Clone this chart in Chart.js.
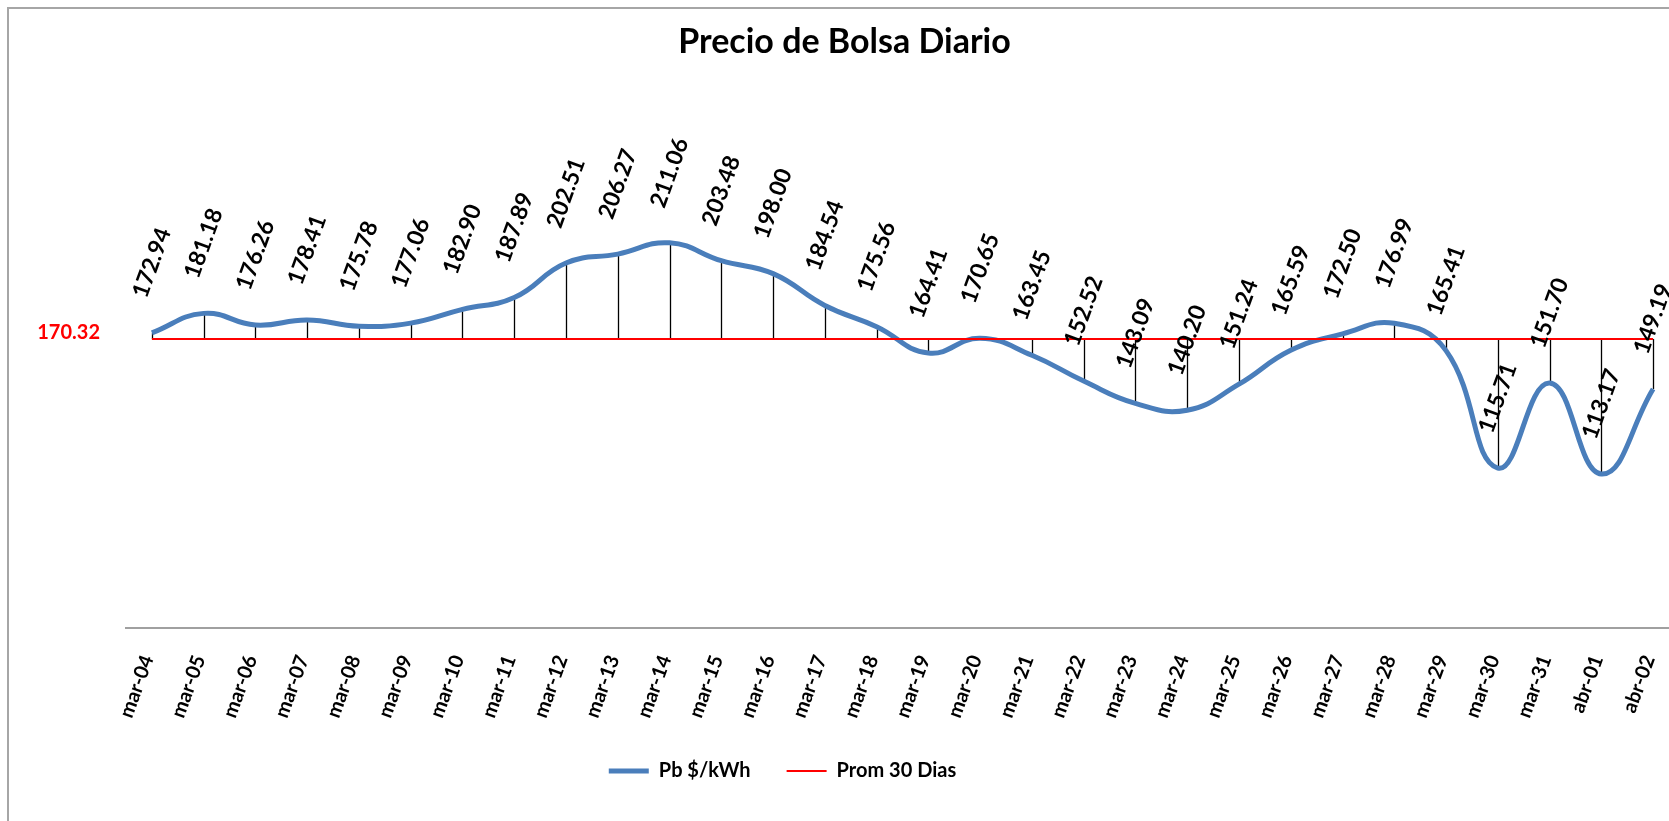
<!DOCTYPE html>
<html>
<head>
<meta charset="utf-8">
<title>Precio de Bolsa Diario</title>
<script src="https://cdn.jsdelivr.net/npm/chart.js@4.4.0/dist/chart.umd.min.js"></script>
<style>
  html, body { margin: 0; padding: 0; background: #fff; overflow: hidden; }
  #wrap { position: relative; width: 1700px; height: 821px; }
</style>
</head>
<body>
<div id="wrap"><canvas id="chart1"></canvas></div>
<script>
// Datos del grafico
const fechas = ['mar-04', 'mar-05', 'mar-06', 'mar-07', 'mar-08', 'mar-09', 'mar-10', 'mar-11', 'mar-12', 'mar-13',
                'mar-14', 'mar-15', 'mar-16', 'mar-17', 'mar-18', 'mar-19', 'mar-20', 'mar-21', 'mar-22', 'mar-23',
                'mar-24', 'mar-25', 'mar-26', 'mar-27', 'mar-28', 'mar-29', 'mar-30', 'mar-31', 'abr-01', 'abr-02'];
const precioBolsa = [172.94, 181.18, 176.26, 178.41, 175.78, 177.06, 182.90, 187.89, 202.51, 206.27,
                     211.06, 203.48, 198.00, 184.54, 175.56, 164.41, 170.65, 163.45, 152.52, 143.09,
                     140.20, 151.24, 165.59, 172.50, 176.99, 165.41, 115.71, 151.70, 113.17, 149.19];
const prom30Dias = [170.32, 170.32, 170.32, 170.32, 170.32, 170.32, 170.32, 170.32, 170.32, 170.32,
                    170.32, 170.32, 170.32, 170.32, 170.32, 170.32, 170.32, 170.32, 170.32, 170.32,
                    170.32, 170.32, 170.32, 170.32, 170.32, 170.32, 170.32, 170.32, 170.32, 170.32];
const marcasEjeY = [170.32]; // unica etiqueta del eje vertical

const fuente = 'Lato, "Liberation Sans", Arial, sans-serif';

// Marco gris del grafico (arriba e izquierda)
const marco = {
    id: 'marco',
    beforeDraw(chart) {
        const ctx = chart.ctx;
        ctx.save();
        ctx.strokeStyle = '#a6a6a6';
        ctx.lineWidth = 2;
        ctx.beginPath();
        ctx.moveTo(8, chart.height + 10);
        ctx.lineTo(8, 8);
        ctx.lineTo(chart.width + 10, 8);
        ctx.stroke();
        ctx.restore();
    }
};

// Lineas verticales entre el precio y el promedio
const lineasAltoBajo = {
    id: 'lineasAltoBajo',
    beforeDatasetsDraw(chart) {
        const ctx = chart.ctx;
        const x = chart.scales.x, y = chart.scales.y;
        ctx.save();
        ctx.strokeStyle = '#000';
        ctx.lineWidth = 1.3;
        precioBolsa.forEach((v, i) => {
            const px = Math.round(x.getPixelForValue(i)) + 0.5;
            ctx.beginPath();
            ctx.moveTo(px, y.getPixelForValue(v));
            ctx.lineTo(px, y.getPixelForValue(prom30Dias[i]));
            ctx.stroke();
        });
        ctx.restore();
    }
};

// Etiquetas de valor giradas encima de cada punto
const etiquetas = {
    id: 'etiquetas',
    afterDatasetsDraw(chart) {
        const ctx = chart.ctx;
        const meta = chart.getDatasetMeta(0);
        ctx.save();
        ctx.font = 'bold 23px ' + fuente;
        ctx.fillStyle = '#000';
        ctx.textAlign = 'center';
        ctx.textBaseline = 'middle';
        meta.data.forEach((pt, i) => {
            ctx.save();
            ctx.translate(pt.x, pt.y - 70);
            ctx.rotate(-70 * Math.PI / 180);
            ctx.fillText(precioBolsa[i].toFixed(2), 0, 0);
            ctx.restore();
        });
        ctx.restore();
    }
};

// La leyenda del original esta corrida a la izquierda
const moverLeyenda = {
    id: 'moverLeyenda',
    afterLayout(chart) {
        if (chart.legend) {
            chart.legend.left -= 62;
            chart.legend.right -= 62;
        }
    }
};

let chart1 = new Chart(document.getElementById('chart1'), {
    type: 'line',
    data: {
        labels: fechas,
        datasets: [{
            label: 'Pb $/kWh',
            data: precioBolsa,
            borderColor: '#4a7ebb',
            backgroundColor: '#4a7ebb',
            borderWidth: 5,
            tension: 0.45,
            pointRadius: 0,
            fill: false,
            order: 2
        }, {
            label: 'Prom 30 Dias',
            data: prom30Dias,
            borderColor: '#ff0000',
            backgroundColor: '#ff0000',
            borderWidth: 2,
            tension: 0,
            pointRadius: 0,
            fill: false,
            order: 1
        }]
    },
    options: {
        responsive: true,
        maintainAspectRatio: false,
        animation: false,
        layout: {
            padding: { left: 10, right: 21, top: 0, bottom: 30 }
        },
        scales: {
            x: {
                offset: true,
                grid: { display: false, drawTicks: false },
                border: { display: true, color: '#a0a0a0', width: 2 },
                afterFit: (scale) => { scale.height = 97; },
                ticks: {
                    autoSkip: false,
                    minRotation: 70,
                    maxRotation: 70,
                    padding: 24,
                    labelOffset: -4,
                    color: '#000',
                    font: { family: fuente, size: 20, weight: 'bold' }
                }
            },
            y: {
                min: 48,
                max: 250,
                grid: { display: false, drawTicks: false },
                border: { display: false },
                afterBuildTicks: (scale) => { scale.ticks = marcasEjeY.map(v => ({ value: v })); },
                afterFit: (scale) => { scale.width = 116; },
                ticks: {
                    color: '#ff0000',
                    padding: 26,
                    labelOffset: -6,
                    font: { family: fuente, size: 20, weight: 'bold' },
                    callback: (v) => Number(v).toFixed(2)
                }
            }
        },
        plugins: {
            title: {
                display: true,
                text: 'Precio de Bolsa Diario',
                color: '#000',
                font: { family: fuente, size: 34, weight: 'bold' },
                padding: { top: 22, bottom: 88 }
            },
            legend: {
                display: true,
                position: 'bottom',
                labels: {
                    usePointStyle: true,
                    pointStyle: 'line',
                    pointStyleWidth: 40,
                    padding: 36,
                    color: '#000',
                    font: { family: fuente, size: 20, weight: 'bold' },
                    sort: (a, b) => a.datasetIndex - b.datasetIndex
                }
            },
            tooltip: { enabled: false }
        }
    },
    plugins: [marco, lineasAltoBajo, etiquetas, moverLeyenda]
});
</script>
</body>
</html>
